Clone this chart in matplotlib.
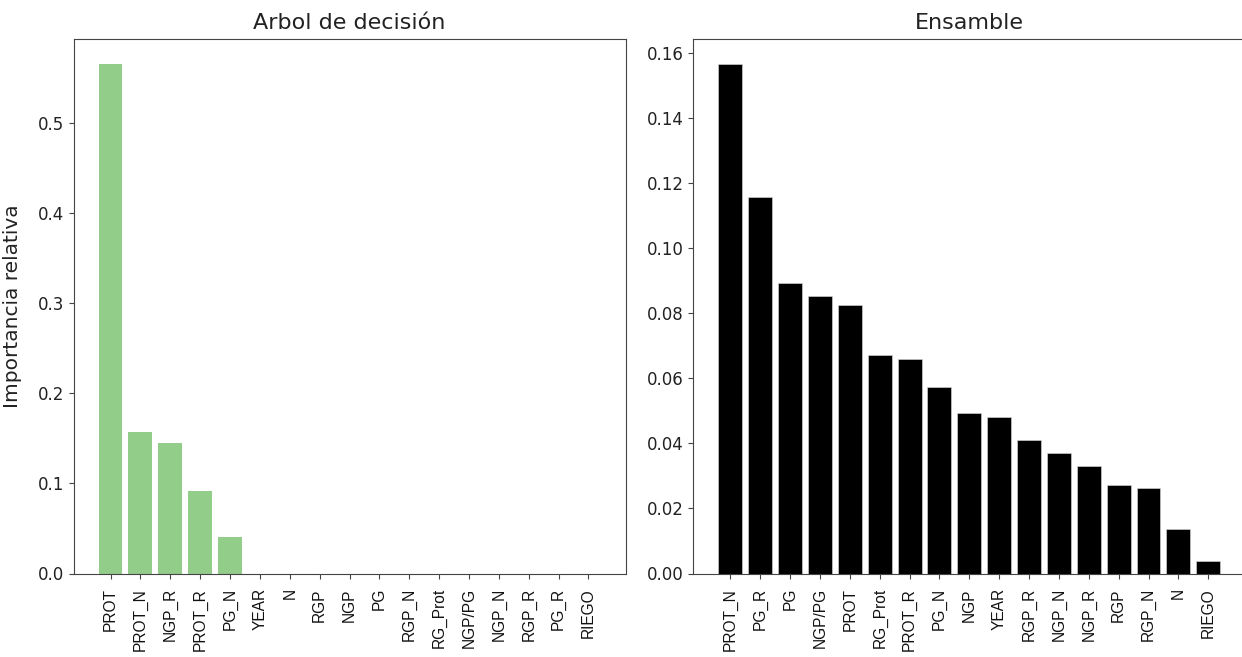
import matplotlib
matplotlib.use("Agg")
import matplotlib.pyplot as plt

# Feature importances: single decision tree
tree_features = ["PROT", "PROT_N", "NGP_R", "PROT_R", "PG_N", "YEAR", "N", "RGP",
                 "NGP", "PG", "RGP_N", "RG_Prot", "NGP/PG", "NGP_N", "RGP_R",
                 "PG_R", "RIEGO"]
tree_importance = [0.566, 0.157, 0.145, 0.092, 0.040, 0.0, 0.0, 0.0,
                   0.0, 0.0, 0.0, 0.0, 0.0, 0.0, 0.0, 0.0, 0.0]

# Feature importances: ensemble model
ensemble_features = ["PROT_N", "PG_R", "PG", "NGP/PG", "PROT", "RG_Prot", "PROT_R",
                     "PG_N", "NGP", "YEAR", "RGP_R", "NGP_N", "NGP_R", "RGP",
                     "RGP_N", "N", "RIEGO"]
ensemble_importance = [0.1565, 0.1155, 0.0891, 0.0853, 0.0825, 0.0672, 0.0658,
                       0.0574, 0.0494, 0.0481, 0.0411, 0.0369, 0.0329, 0.0272,
                       0.0263, 0.0136, 0.0039]

W, H = 1242, 657
fig = plt.figure(figsize=(W / 100, H / 100), dpi=100)

top_px, bottom_px = 38.5, 573.5
ax_h = (bottom_px - top_px) / H
ax_y = (H - bottom_px) / H
ax1 = fig.add_axes([73.5 / W, ax_y, 552 / W, ax_h])
ax2 = fig.add_axes([693.3 / W, ax_y, 552 / W, ax_h])

spine_col = "#444444"

def style(ax, labels):
    x = list(range(len(labels)))
    ax.set_xticks(x)
    ax.set_xticklabels(labels, rotation=90, fontsize=11.2,
                       family=["Liberation Sans", "DejaVu Sans"])
    ax.tick_params(axis="x", pad=7, colors=spine_col, labelcolor="#111111")
    ax.tick_params(axis="y", labelsize=12, colors=spine_col, labelcolor="#222222")
    for s in ax.spines.values():
        s.set_color(spine_col)

ax1.bar(range(len(tree_features)), tree_importance, width=0.8, color="#92cd8a")
style(ax1, tree_features)
ax1.set_yticks([0.0, 0.1, 0.2, 0.3, 0.4, 0.5])
ax1.set_title("Arbol de decisión", fontsize=16, color="#222222", pad=7)
ax1.set_ylabel("Importancia relativa", fontsize=14.5, color="#222222", labelpad=11)

ax2.bar(range(len(ensemble_features)), ensemble_importance, width=0.8,
        color="black", edgecolor="#dddddd", linewidth=0.4)
style(ax2, ensemble_features)
ax2.set_yticks([0.00, 0.02, 0.04, 0.06, 0.08, 0.10, 0.12, 0.14, 0.16])
ax2.set_yticklabels([f"{v:.2f}" for v in ax2.get_yticks()])
ax2.set_title("Ensamble", fontsize=16, color="#222222", pad=7)

fig.savefig("out.png", dpi=100)
